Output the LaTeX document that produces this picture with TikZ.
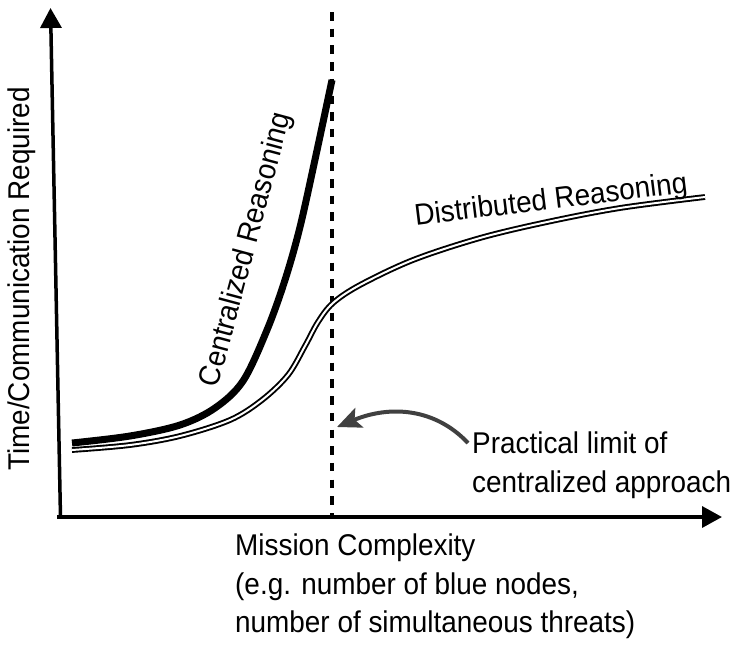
\documentclass[tikz,border=0pt]{standalone}
\usepackage{fontspec}
\setmainfont[FakeStretch=0.93]{Liberation Sans}
\usetikzlibrary{arrows.meta}
\begin{document}
\begin{tikzpicture}[x=1pt,y=-1pt,
  lab/.style={font=\fontsize{30}{38.5}\selectfont, inner sep=0pt},
  axisline/.style={line width=3.5pt, -{Triangle[length=20pt,width=21pt]}},
  central/.style={line width=7pt},
  distrib/.style={line width=1.9pt, double=white, double distance=2pt},
  limitline/.style={line width=4pt, dash pattern=on 8.5pt off 8.2pt},
  pointer/.style={line width=4pt, draw=black!75, -{Stealth[length=24pt,width=21pt,inset=5pt]}}]
\useasboundingbox (0,0) rectangle (741,645);
\coordinate (O) at (60.5,518);
\coordinate (ytip) at (50.5,8);
\coordinate (xstart) at (57,517);
\coordinate (xtip) at (722,517);
\coordinate (dtop) at (332,12);
\coordinate (dbot) at (332,517);
\coordinate (astart) at (468,443);
\coordinate (atip) at (337,427);
% axes
\draw[axisline] (O) -- (ytip);
\draw[axisline] (xstart) -- (xtip);
% practical limit
\draw[limitline] (dtop) -- (dbot);
% curves
\draw[distrib] plot[smooth, tension=0.55] coordinates {(72,450) (130,445) (180,436) (230,420) (262,400) (288,375) (305,346) (318,322) (333,303) (360,285) (413,260) (480,238) (547,222) (620,208) (705,197)};
\draw[central] plot[smooth, tension=0.55] coordinates {(72,443) (130,436) (180,425) (215,408) (243,381) (267,330) (285,280) (300,227) (316,155) (332,80)};
% labels
\node[lab, rotate=90] (ylab) at (22,279) {Time/Communication Required};
\node[lab, anchor=north west, align=left] (xlab) at (235,534) {Mission Complexity\\(e.g. number of blue nodes,\\number of simultaneous threats)};
\node[lab, anchor=north west, align=left] (plt) at (472,432) {Practical limit of\\centralized approach};
\node[lab, rotate=75] (clab) at (247,250) {Centralized Reasoning};
\node[lab, rotate=7, anchor=base] (dlab) at (552,209) {Distributed Reasoning};
% pointer
\draw[pointer] (astart) .. controls (435,408) and (390,405) .. (atip);
\end{tikzpicture}
\end{document}
